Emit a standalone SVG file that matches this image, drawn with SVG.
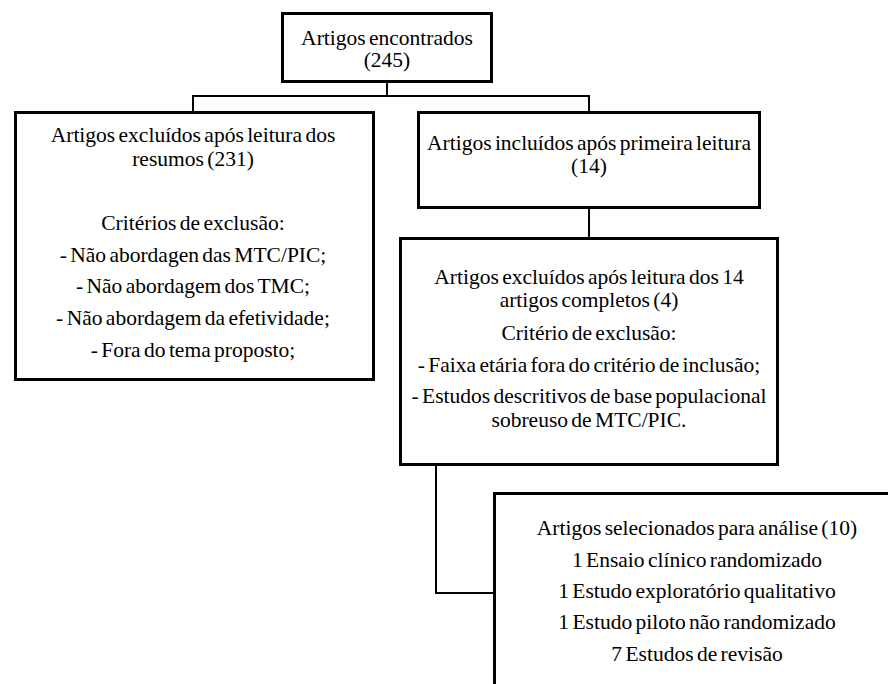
<svg xmlns="http://www.w3.org/2000/svg" width="888" height="684" viewBox="0 0 888 684">
<style>
.box{fill:#fff;stroke:#000;stroke-width:3}
.c{fill:none;stroke:#000;stroke-width:2}
.t{font-family:'Times New Roman','Liberation Serif','Noto Serif','DejaVu Serif',serif;font-size:21.5px;fill:#000;text-anchor:middle;word-spacing:-2px}
</style>
<rect width="888" height="684" fill="#fff"/>
<g id="connectors">
<polyline class="c" points="387,82 387,96"/>
<polyline class="c" points="193,112 193,96 589,96 589,112"/>
<polyline class="c" points="589,208 589,238"/>
<polyline class="c" points="436,465 436,593 494,593"/>
</g>
<g id="n1" class="t">
<rect class="box" x="282.5" y="13.5" width="209" height="68"/>
<text x="387" y="44.5">Artigos encontrados</text>
<text x="387" y="67">(245)</text>
</g>
<g id="n2" class="t">
<rect class="box" x="15.5" y="112.5" width="358" height="267"/>
<text x="193" y="141.7">Artigos excluídos após leitura dos</text>
<text x="193" y="166">resumos (231)</text>
<text x="193" y="230">Critérios de exclusão:</text>
<text x="193" y="261.7">- Não abordagen das MTC/PIC;</text>
<text x="193" y="293">- Não abordagem dos TMC;</text>
<text x="193" y="325">- Não abordagem da efetividade;</text>
<text x="193" y="356.7">- Fora do tema proposto;</text>
</g>
<g id="n3" class="t">
<rect class="box" x="418.5" y="112.5" width="341" height="95"/>
<text x="589" y="150">Artigos incluídos após primeira leitura</text>
<text x="589" y="173">(14)</text>
</g>
<g id="n4" class="t">
<rect class="box" x="400.5" y="238.5" width="377" height="226"/>
<text x="589" y="283.5">Artigos excluídos após leitura dos 14</text>
<text x="589" y="307">artigos completos (4)</text>
<text x="589" y="340">Critério de exclusão:</text>
<text x="589" y="371.7">- Faixa etária fora do critério de inclusão;</text>
<text x="589" y="403">- Estudos descritivos de base populacional</text>
<text x="589" y="426.7">sobreuso de MTC/PIC.</text>
</g>
<g id="n5" class="t">
<rect class="box" x="494.5" y="493.5" width="420" height="220"/>
<text x="697" y="535">Artigos selecionados para análise (10)</text>
<text x="697" y="566.7">1 Ensaio clínico randomizado</text>
<text x="697" y="598">1 Estudo exploratório qualitativo</text>
<text x="697" y="629.3">1 Estudo piloto não randomizado</text>
<text x="697" y="660.5">7 Estudos de revisão</text>
</g>
</svg>
